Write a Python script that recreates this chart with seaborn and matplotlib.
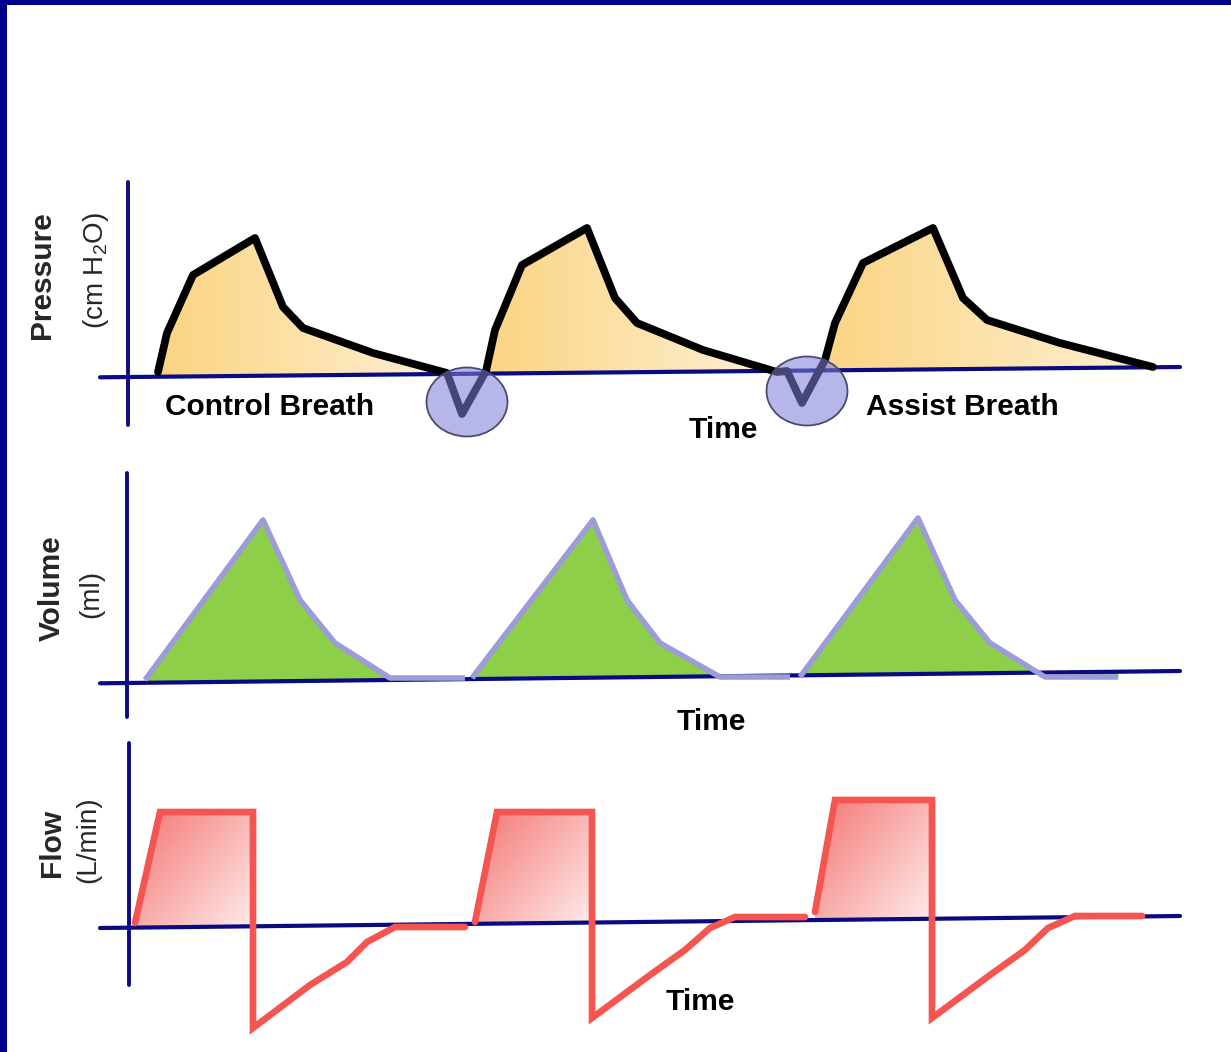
import numpy as np
import matplotlib
matplotlib.use("Agg")
import matplotlib.pyplot as plt
from matplotlib.patches import Ellipse, Rectangle
import seaborn as sns

sns.set_style("white")
plt.rcParams['font.family'] = ['Liberation Sans', 'DejaVu Sans']
plt.rcParams['mathtext.fontset'] = 'custom'
plt.rcParams['mathtext.rm'] = 'Liberation Sans'

# ---------------- data (time in arbitrary units, values relative to zero) -------------
# Pressure: one continuous trace with two patient-trigger dips
pressure_time = [0.30, 0.39, 0.65, 1.27, 1.55, 1.75, 2.45, 3.19,
                 3.34,
                 3.58, 3.67, 3.94, 4.59, 4.87, 5.09, 5.75, 6.49,
                 6.59, 6.74,
                 6.97, 7.07, 7.35, 8.05, 8.35, 8.59, 9.32, 10.25]
pressure_vals = [0.5, 4.4, 10.2, 13.9, 7.0, 4.9, 2.4, 0.4,
                 -3.7,
                 0.6, 4.7, 11.2, 14.9, 7.9, 5.4, 2.7, 0.5,
                 0.6, -2.6,
                 1.7, 5.4, 11.4, 14.9, 7.9, 5.7, 3.4, 1.0]
trigger_time = [3.39, 6.79]
trigger_vals = [-2.5, -1.4]

# Volume: three breaths
volume_time = [[0.17, 1.35, 1.72, 2.07, 2.62, 3.37],
               [3.44, 4.65, 4.99, 5.32, 5.92, 6.62],
               [6.72, 7.90, 8.27, 8.62, 9.17, 9.90]]
volume_vals = [[0.3, 16.3, 8.3, 4.0, 0.5, 0.5],
               [0.5, 16.3, 8.3, 4.0, 0.6, 0.6],
               [0.6, 16.5, 8.3, 4.0, 0.6, 0.6]]

# Flow: three breaths (square wave inspiration, decaying expiration)
flow_time = [[0.07, 0.32, 1.25, 1.25, 1.82, 2.19, 2.39, 2.67, 3.37],
             [3.47, 3.69, 4.64, 4.64, 5.22, 5.57, 5.82, 6.07, 6.77],
             [6.87, 7.07, 8.04, 8.04, 8.62, 8.97, 9.20, 9.47, 10.14]]
flow_vals = [[0.5, 11.6, 11.6, -10.0, -5.7, -3.4, -1.4, 0.1, 0.1],
             [0.6, 11.6, 11.6, -9.0, -4.7, -2.2, 0.0, 1.1, 1.1],
             [1.6, 12.8, 12.8, -9.0, -4.7, -2.2, 0.0, 1.2, 1.2]]

# zero lines (slightly tilted, as drawn)
axis_time = [-0.28, 10.52]
pressure_zero = [-0.03, 1.0]
volume_zero = [-0.03, 1.2]
flow_zero = [0.0, 1.2]

labels_bold = ["Pressure", "Volume", "Flow"]
labels_unit = ["(cm $\\mathregular{H_2O}$)", "(ml)", "(L/min)"]
time_label = "Time"

# ---------------- figure ----------------
W, H = 1231, 1052
fig = plt.figure(figsize=(W / 100, H / 100), dpi=100)
fig.patch.set_facecolor("white")

NAVY = "#0A0A85"
BLACK = "#000000"
LAV = "#9C9CD8"
GREEN = "#8DCF48"
RED = "#F55550"


def make_ax(xl, xr, yt, yb, ylim):
    ax = fig.add_axes([xl / W, 1 - yb / H, (xr - xl) / W, (yb - yt) / H])
    ax.set_xlim(-0.33, 10.62)
    ax.set_ylim(*ylim)
    ax.axis("off")
    ax.patch.set_alpha(0)
    return ax


def gradient_fill(ax, paths, c0, c1, mode="h", z=1):
    n = 200
    U, Wy = np.meshgrid(np.linspace(0, 1, n), np.linspace(0, 1, n))
    if mode == "h":
        f = U
    else:
        f = np.clip(0.55 * U + 0.45 * (1 - Wy), 0, 1)
    c0 = np.array(c0) / 255.0
    c1 = np.array(c1) / 255.0
    img = c0[None, None, :] * (1 - f[..., None]) + c1[None, None, :] * f[..., None]
    for p in paths:
        (x0, y0), (x1, y1) = p.get_extents().get_points()
        im = ax.imshow(img, extent=[x0, x1, y0, y1], origin="lower",
                       aspect="auto", zorder=z, interpolation="bilinear")
        im.set_clip_path(p, transform=ax.transData)


def zero_line(zero):
    return lambda t: np.interp(t, axis_time, zero)


def draw_axes(ax, zero, vtop, vbot, vx=0.0):
    sns.lineplot(x=axis_time, y=zero, ax=ax, color=NAVY, lw=3.0,
                 sort=False, estimator=None, zorder=3)
    sns.lineplot(x=[vx, vx], y=[vtop, vbot], ax=ax, color=NAVY, lw=2.8,
                 sort=False, estimator=None, zorder=3)


# ---------------- Pressure ----------------
axP = make_ax(95, 1190, 170, 445, (-6.8, 20.7))
pt = np.array(pressure_time)
pv = np.array(pressure_vals)
base_p = zero_line(pressure_zero)
coll = axP.fill_between(pt, pv, base_p(pt), where=pv >= base_p(pt) - 1e-9,
                        interpolate=True, lw=0)
paths = coll.get_paths()
coll.remove()
gradient_fill(axP, paths, (251, 212, 130), (254, 240, 212), mode="h")
draw_axes(axP, pressure_zero, 19.5, -4.8, 0.0)
sns.lineplot(x=pt, y=pv, ax=axP, color=BLACK, lw=5.6, sort=False,
             estimator=None, zorder=4, solid_joinstyle="round",
             solid_capstyle="round")
for tc, vc in zip(trigger_time, trigger_vals):
    axP.add_patch(Ellipse((tc, vc), 0.81, 6.9,
                          facecolor=(125 / 255, 125 / 255, 214 / 255, 0.56),
                          edgecolor="#4A4A70", lw=1.3, zorder=5))
txt_kw = dict(fontsize=21.5, fontweight="bold", ha="center", va="center",
              color="black", zorder=6)
axP.text(1.42, -3.0, "Control Breath", **txt_kw)
axP.text(5.95, -5.3, time_label, **txt_kw)
axP.text(8.34, -3.0, "Assist Breath", **txt_kw)

# ---------------- Volume ----------------
axV = make_ax(95, 1190, 465, 740, (-5.7, 21.8))
base_v = zero_line(volume_zero)
for tt, vv in zip(volume_time, volume_vals):
    tt = np.array(tt)
    vv = np.array(vv)
    axV.fill_between(tt, vv, base_v(tt), color=GREEN, lw=0, zorder=1)
draw_axes(axV, volume_zero, 21.0, -3.4, -0.01)
for tt, vv in zip(volume_time, volume_vals):
    sns.lineplot(x=tt, y=vv, ax=axV, color=LAV, lw=4.0, sort=False,
                 estimator=None, zorder=4, solid_joinstyle="round",
                 solid_capstyle="butt")
axV.text(5.83, -3.9, time_label, **txt_kw)

# ---------------- Flow ----------------
axF = make_ax(95, 1190, 735, 1045, (-11.7, 19.3))
base_f = zero_line(flow_zero)
fpaths = []
for tt, vv in zip(flow_time, flow_vals):
    tt = np.array(tt[:3])
    vv = np.array(vv[:3])
    c = axF.fill_between(tt, vv, base_f(tt), lw=0)
    fpaths += list(c.get_paths())
    c.remove()
gradient_fill(axF, fpaths, (244, 118, 116), (254, 236, 234), mode="d")
draw_axes(axF, flow_zero, 18.5, -5.7, 0.01)
for tt, vv in zip(flow_time, flow_vals):
    sns.lineplot(x=tt, y=vv, ax=axF, color=RED, lw=4.8, sort=False,
                 estimator=None, zorder=4, solid_joinstyle="miter",
                 solid_capstyle="round")
axF.text(5.72, -7.4, time_label, **txt_kw)

# ---------------- y labels ----------------
lab_pos = [((42, 275), (96, 270)), ((52, 588), (91, 594)), ((52, 843), (88, 840))]
for (bp, up), lb, lu in zip(lab_pos, labels_bold, labels_unit):
    fig.text(bp[0] / W, 1 - bp[1] / H, lb, rotation=90, fontsize=21.5,
             fontweight="bold", ha="center", va="center")
    fig.text(up[0] / W, 1 - up[1] / H, lu, rotation=90, fontsize=20,
             ha="center", va="center")

# ---------------- slide frame ----------------
fig.patches.append(Rectangle((0, 1 - 5 / H), 1, 5 / H, transform=fig.transFigure,
                             facecolor="#00008C", edgecolor="none", zorder=10))
fig.patches.append(Rectangle((0, 0), 7 / W, 1, transform=fig.transFigure,
                             facecolor="#00008C", edgecolor="none", zorder=10))

fig.savefig("out.png", dpi=100)
